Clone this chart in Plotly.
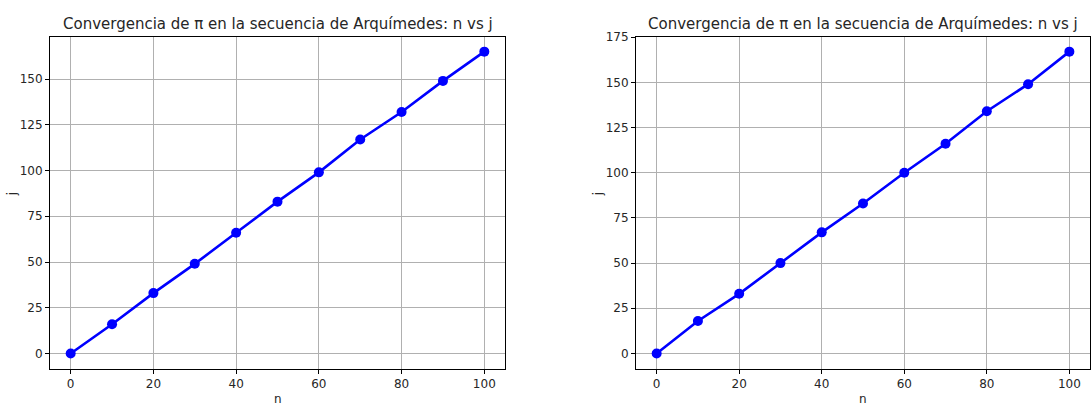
import plotly.graph_objects as go

# Datos de la secuencia: n frente a j para dos ejecuciones
n_vals = [0, 10, 20, 30, 40, 50, 60, 70, 80, 90, 100]
j_left = [0, 16, 33, 49, 66, 83, 99, 117, 132, 149, 165]
j_right = [0, 18, 33, 50, 67, 83, 100, 116, 134, 149, 167]

titulo = "Convergencia de π en la secuencia de Arquímedes: n vs j"
x_ticks = [0, 20, 40, 60, 80, 100]
y_ticks_left = [0, 25, 50, 75, 100, 125, 150]
y_ticks_right = [0, 25, 50, 75, 100, 125, 150, 175]

W, H = 1092, 406
FONT = "DejaVu Sans"
TXT = "#262626"

fig = go.Figure()

line_style = dict(color="#0000ff", width=2.6)
marker_style = dict(color="#0000ff", size=10)

fig.add_trace(go.Scatter(x=n_vals, y=j_left, mode="lines+markers",
                         line=line_style, marker=marker_style,
                         xaxis="x", yaxis="y", showlegend=False))
fig.add_trace(go.Scatter(x=n_vals, y=j_right, mode="lines+markers",
                         line=line_style, marker=marker_style,
                         xaxis="x2", yaxis="y2", showlegend=False))


def pad_range(vals, frac=0.05):
    lo, hi = min(vals), max(vals)
    span = hi - lo
    return [lo - frac * span, hi + frac * span]


axis_common = dict(
    showgrid=True, gridcolor="#b0b0b0", gridwidth=0.8,
    showline=True, linecolor="black", linewidth=1, mirror=True,
    ticks="outside", ticklen=4, tickcolor="black", tickwidth=1,
    tickfont=dict(family=FONT, size=12, color=TXT),
    zeroline=False,
)

y_dom = [(H - 368) / H, (H - 31) / H]

fig.update_layout(
    width=W, height=H,
    margin=dict(l=0, r=0, t=0, b=0),
    paper_bgcolor="white", plot_bgcolor="white",
    font=dict(family=FONT, color=TXT),
    xaxis=dict(domain=[50 / W, 505 / W], range=pad_range(n_vals),
               tickvals=x_ticks, anchor="y", **axis_common),
    yaxis=dict(domain=y_dom, range=pad_range(j_left),
               tickvals=y_ticks_left, anchor="x", **axis_common),
    xaxis2=dict(domain=[636 / W, 1090 / W], range=pad_range(n_vals),
                tickvals=x_ticks, anchor="y2", **axis_common),
    yaxis2=dict(domain=y_dom, range=pad_range(j_right),
                tickvals=y_ticks_right, anchor="x2", **axis_common),
)

# Títulos y etiquetas de ejes
for x0, x1, ylab_x in [(50, 505, 12), (636, 1090, 598)]:
    cx = (x0 + x1) / 2 / W
    fig.add_annotation(text=titulo, x=cx, y=(H - 18) / H, xref="paper", yref="paper",
                       showarrow=False, font=dict(family=FONT, size=15, color=TXT),
                       xanchor="center", yanchor="middle")
    fig.add_annotation(text="n", x=cx, y=(H - 399) / H, xref="paper", yref="paper",
                       showarrow=False, font=dict(family=FONT, size=12, color=TXT),
                       xanchor="center", yanchor="middle")
    fig.add_annotation(text="j", x=ylab_x / W, y=(H - 191) / H, xref="paper", yref="paper",
                       showarrow=False, font=dict(family=FONT, size=12, color=TXT),
                       xanchor="center", yanchor="middle", textangle=-90)

fig.write_html("out.html")
